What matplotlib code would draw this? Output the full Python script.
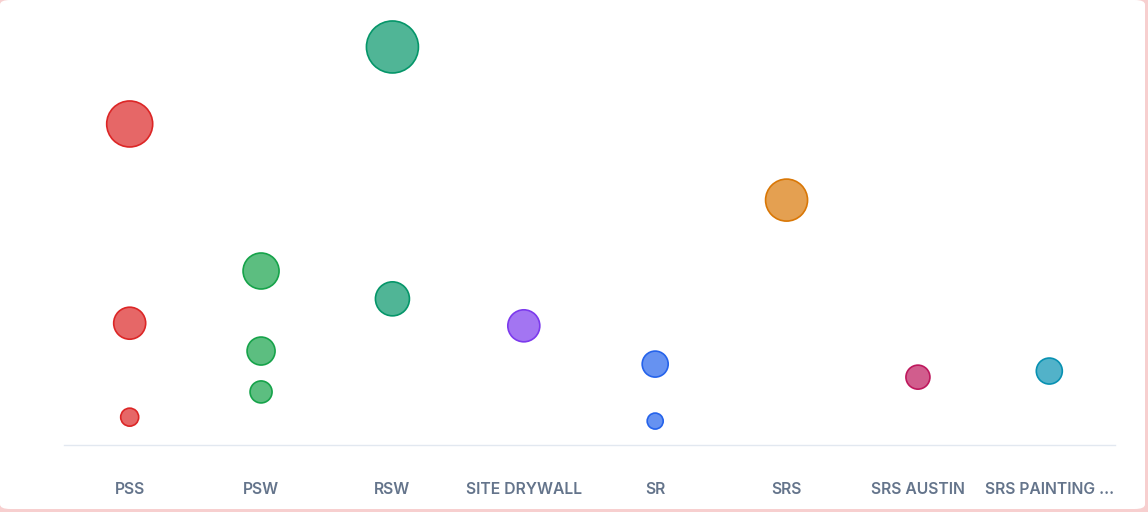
import matplotlib.pyplot as plt
from matplotlib.patches import FancyBboxPatch

# companies on the x axis
categories = ["PSS", "PSW", "RSW", "SITE DRYWALL", "SR", "SRS", "SRS AUSTIN", "SRS PAINTING …"]

# one entry per bubble: category index, value, bubble radius (px)
bubble_cat = [0, 0, 0, 1, 1, 1, 2, 2, 3, 4, 4, 5, 6, 7]
bubble_val = [73.8, 28.0, 6.4, 40.0, 21.6, 12.2, 91.5, 33.6, 27.4, 18.6, 5.5, 56.3, 15.6, 17.0]
bubble_r = [23, 16, 9, 18, 14, 11, 26, 17, 16, 13, 8, 21, 12, 13]

edge_colors = ["#dc2626", "#16a34a", "#059669", "#7c3aed",
               "#2563eb", "#d97706", "#be185d", "#0891b2"]

fig = plt.figure(figsize=(11.48, 5.12), dpi=100)
fig.patch.set_facecolor("#f7cfcf")

# white card with rounded corners
card = FancyBboxPatch((0, 3 / 512), 1145 / 1148, 509 / 512,
                      boxstyle="round,pad=0,rounding_size=0.009",
                      transform=fig.transFigure, facecolor="white",
                      edgecolor="none", zorder=-5)
fig.patches.append(card)

ax = fig.add_axes([64 / 1148, 67 / 512, 1051 / 1148, 435 / 512])
ax.set_zorder(2)
ax.set_facecolor("none")

for c, v, r in zip(bubble_cat, bubble_val, bubble_r):
    col = edge_colors[c]
    d_pt = 2 * r * 0.72
    ax.scatter(c, v, s=d_pt ** 2, facecolor=col, edgecolor="none", zorder=3)
    ax.scatter(c, v, s=d_pt ** 2, facecolor="white", edgecolor="none",
               alpha=0.3, zorder=4)
    ax.scatter(c, v, s=d_pt ** 2, facecolor="none", edgecolor=col,
               linewidth=1.2, zorder=5)

ax.set_xlim(-0.5, len(categories) - 0.5)
ax.set_ylim(0, 100)
ax.set_xticks(range(len(categories)))
labels = ax.set_xticklabels(categories, family=["Inter", "DejaVu Sans"],
                            fontsize=11.3, fontweight="semibold", color="#64748b")
ax.tick_params(axis="x", length=0, pad=27)
ax.set_yticks([])
for side in ["top", "right", "left"]:
    ax.spines[side].set_visible(False)
ax.spines["bottom"].set_color("#e2e8f0")
ax.spines["bottom"].set_linewidth(1)

fig.savefig("out.png", dpi=100, facecolor=fig.get_facecolor())
